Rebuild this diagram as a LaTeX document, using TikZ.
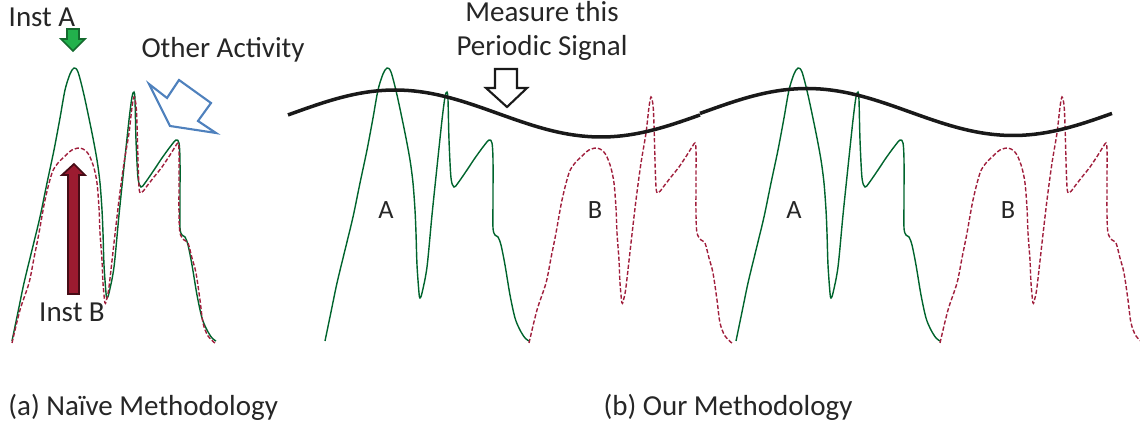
\documentclass[tikz,border=0pt]{standalone}
\usepackage{fontspec}
\setmainfont{Carlito}
\usetikzlibrary{positioning}
\definecolor{tracegreen}{RGB}{0,100,45}
\definecolor{tracered}{RGB}{160,30,60}
\definecolor{instgreen}{RGB}{34,177,76}
\definecolor{instred}{RGB}{155,27,48}
\definecolor{otherblue}{RGB}{79,129,189}

\begin{document}
\begin{tikzpicture}[x=0.02cm,y=-0.02cm,
    lbl/.style={font=\fontsize{16.5}{19.5}\selectfont,text=black!85,inner sep=0pt},
    small/.style={font=\fontsize{15}{17}\selectfont,text=black!85,inner sep=0pt},
    traceA/.style={tracegreen,line width=0.8pt},
    traceB/.style={tracered,line width=0.8pt,dash pattern=on 2.4pt off 1.2pt},
    signal/.style={black!90,line width=2pt},
    blockarrow/.style={line width=1pt,line join=miter}]

\useasboundingbox (0,0) rectangle (1140,425);

% instruction A traces (green)
\foreach \s in {12,325,736}
  \draw[traceA,shift={(\s,0)}] plot[smooth,tension=0.5] coordinates {
    (0,341) (6,312) (12,283) (20,250) (28,217) (35,183) (42,150) (48,118)
    (53,90) (58,74) (62,68) (66,72) (72,95) (80,133) (85,160) (88,183)
    (90,210) (91,233) (92,265) (94,293) (95,298) (97,293) (102,267) (107,215)
    (112,167) (117,120) (120,97) (122,92) (123,100) (124,140) (126,178) (129,187)
    (133,183) (142,170) (150,158) (158,147) (164,140) (167,143) (168,160) (168,200)
    (168,228) (170,235) (173,237) (176,245) (180,265) (185,295) (190,318) (195,330)
    (200,338) (204,341)};

% instruction B traces (red, dashed)
\foreach \s in {12,529,940}
  \draw[traceB,shift={(\s,0)}] plot[smooth,tension=0.5] coordinates {
    (0,343) (8,310) (17,283) (22,258) (27,233) (33,200) (40,173) (46,163)
    (52,157) (60,150) (68,148) (74,151) (78,157) (82,168) (85,183) (87,208)
    (88,233) (90,260) (91,283) (93,303) (95,298) (97,287) (102,243) (107,200)
    (112,163) (117,133) (120,107) (122,97) (124,105) (125,125) (127,187) (130,192)
    (135,186) (142,177) (150,167) (158,155) (163,147) (166,143) (167,150) (167,180)
    (167,215) (168,233) (172,240) (176,243) (180,258) (184,273) (188,300) (191,323)
    (196,336) (204,344)};

% periodic signal
\draw[signal] plot[domain=288:700,samples=70] (\x,{113.5-23.5*cos(0.8738*(\x-395))});
\draw[signal] plot[domain=700:1112,samples=70] (\x,{112-23.5*cos(0.8738*(\x-395))});

% (a) labels and arrows
\node[lbl] (instA) at (42,17) {Inst A};
\draw[blockarrow,fill=instgreen,draw=instgreen!60!black]
  (67,29) -- (79,29) -- (79,39) -- (85,39) -- (73,51) -- (61,39) -- (67,39) -- cycle;

\draw[blockarrow,fill=instred,draw=instred!45!black]
  (68,294) -- (68,175) -- (62,175) -- (74,164) -- (85,175) -- (79,175) -- (79,294) -- cycle;
\node[lbl] (instB) at (72,312) {Inst B};

\node[lbl] (other) at (223,50) {Other Activity};
\draw[blockarrow,draw=otherblue,line width=1.2pt]
  (149,84) -- (167,98) -- (179,80) -- (211,103) -- (198,121) -- (216,133) -- (170,126) -- cycle;

% (b) labels and arrow
\node[lbl,align=center] (measure) at (542,31) {Measure this\\Periodic Signal};
\draw[blockarrow,draw=black!90,fill=white,line width=1.2pt]
  (495,69) -- (517,69) -- (517,88) -- (527,88) -- (507,107) -- (486,88) -- (495,88) -- cycle;

\node[small] (a1) at (386,210) {A};
\node[small] (b1) at (595,210) {B};
\node[small] (a2) at (794,210) {A};
\node[small] (b2) at (1008,210) {B};

% captions
\node[lbl,anchor=west] (capa) at (8,407) {(a) Naïve Methodology};
\node[lbl] (capb) at (728,407) {(b) Our Methodology};

\end{tikzpicture}
\end{document}
